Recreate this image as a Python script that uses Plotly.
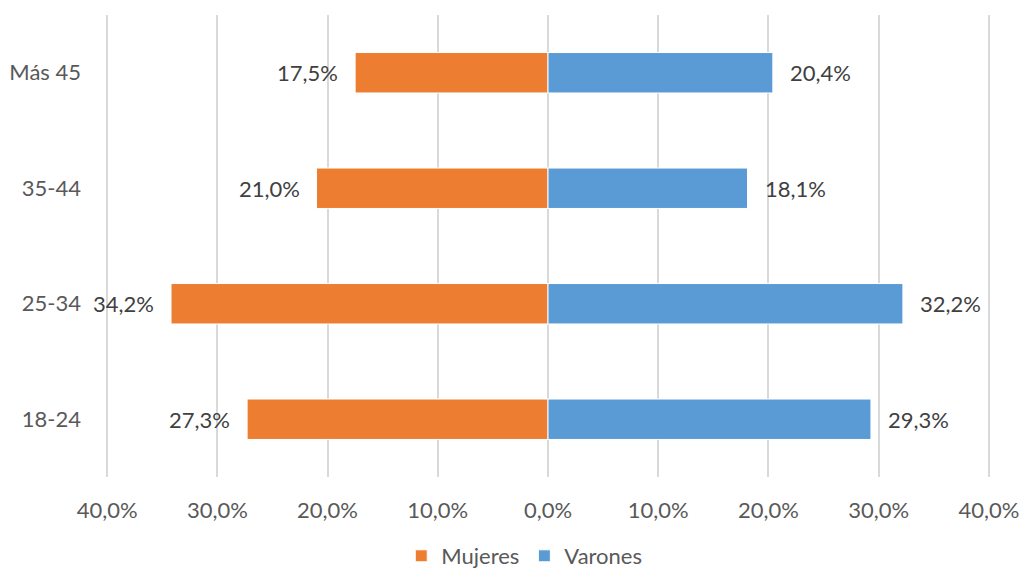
import plotly.graph_objects as go

categories = ["18-24", "25-34", "35-44", "Más 45"]
mujeres = [27.3, 34.2, 21.0, 17.5]
varones = [29.3, 32.2, 18.1, 20.4]
tick_vals = [-40, -30, -20, -10, 0, 10, 20, 30, 40]
tick_text = ["40,0%", "30,0%", "20,0%", "10,0%", "0,0%", "10,0%", "20,0%", "30,0%", "40,0%"]

ORANGE = "#ED7D31"
BLUE = "#5B9BD5"
FONT = "Lato"
FS = 22

def fmt(v):
    return f"{v:.1f}%".replace(".", ",")

fig = go.Figure()
fig.add_trace(go.Bar(
    y=categories, x=[-v for v in mujeres], orientation="h", name="Mujeres",
    marker=dict(color=ORANGE, line=dict(color="#ffffff", width=1)),
    width=0.35, hoverinfo="skip",
))
fig.add_trace(go.Bar(
    y=categories, x=varones, orientation="h", name="Varones",
    marker=dict(color=BLUE, line=dict(color="#ffffff", width=1)),
    width=0.35, hoverinfo="skip",
))

for c, v in zip(categories, mujeres):
    fig.add_annotation(x=-v, y=c, text=fmt(v), showarrow=False, xanchor="right",
                       xshift=-15, font=dict(family=FONT, size=FS, color="#404040"))
for c, v in zip(categories, varones):
    fig.add_annotation(x=v, y=c, text=fmt(v), showarrow=False, xanchor="left",
                       xshift=15, font=dict(family=FONT, size=FS, color="#404040"))

fig.update_layout(
    width=1022, height=572,
    margin=dict(l=106, r=32, t=15, b=95, autoexpand=False),
    barmode="overlay",
    plot_bgcolor="white", paper_bgcolor="white",
    font=dict(family=FONT, size=FS, color="#595959"),
    showlegend=True,
    legend=dict(orientation="h", x=0.334, xanchor="left",
                yref="container", y=16 / 572, yanchor="middle",
                font=dict(family=FONT, size=FS, color="#595959"), traceorder="normal",
                itemwidth=30, tracegroupgap=0),
    xaxis=dict(range=[-40.1, 40.1], tickvals=tick_vals, ticktext=tick_text,
               showgrid=True, gridcolor="#d9d9d9", gridwidth=1.5, zeroline=False,
               showline=False, ticks="", ticklabelstandoff=18, fixedrange=True,
               automargin=False),
    yaxis=dict(categoryorder="array", categoryarray=categories, showgrid=False,
               zeroline=False, showline=False, ticks="", ticklabelstandoff=24,
               fixedrange=True, automargin=False),
)

fig.write_html("out.html", config={"displayModeBar": False},
               post_script="document.body.style.margin='0';document.body.style.overflow='hidden';")
